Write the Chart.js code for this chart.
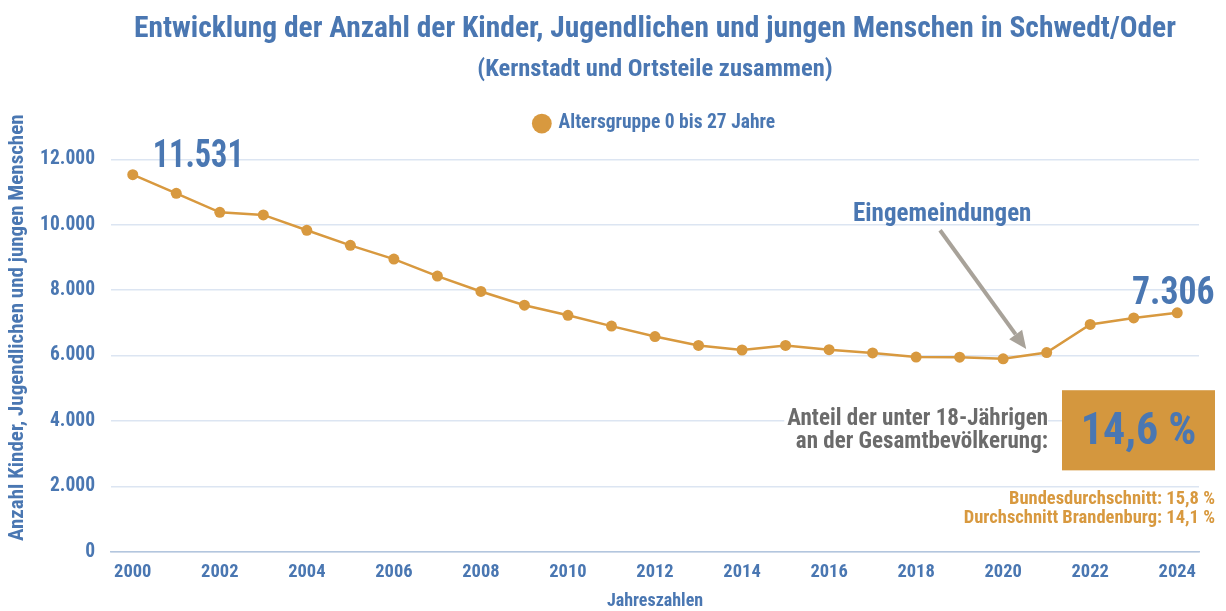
<!DOCTYPE html>
<html lang="de">
<head>
<meta charset="utf-8">
<script src="https://cdn.jsdelivr.net/npm/chart.js@4/dist/chart.umd.min.js"></script>
<style>
  html, body { margin: 0; padding: 0; background: #ffffff; }
  #wrap { width: 1226px; height: 611px; position: relative; }
</style>
</head>
<body>
<div id="wrap"><canvas id="c" width="1226" height="611"></canvas></div>
<script>
// ---- data ----
const years = ['2000','2001','2002','2003','2004','2005','2006','2007','2008','2009','2010','2011','2012',
               '2013','2014','2015','2016','2017','2018','2019','2020','2021','2022','2023','2024'];
const youngPeople = [11531, 10960, 10380, 10300, 9830, 9370, 8950, 8430, 7960, 7540, 7230, 6900, 6580,
                     6310, 6170, 6310, 6180, 6080, 5955, 5950, 5900, 6090, 6950, 7150, 7306];
const seriesLabel = 'Altersgruppe 0 bis 27 Jahre';
const yTicks = [0, 2000, 4000, 6000, 8000, 10000, 12000];
const titleText = 'Entwicklung der Anzahl der Kinder, Jugendlichen und jungen Menschen in Schwedt/Oder';
const subtitleText = '(Kernstadt und Ortsteile zusammen)';
const yAxisTitle = 'Anzahl Kinder, Jugendlichen und jungen Menschen';
const xAxisTitle = 'Jahreszahlen';
const annotationText = 'Eingemeindungen';
const shareLines = ['Anteil der unter 18-Jährigen', 'an der Gesamtbevölkerung:'];
const shareValue = '14,6 %';
const comparisonLines = ['Bundesdurchschnitt: 15,8 %', 'Durchschnitt Brandenburg: 14,1 %'];

// ---- style ----
const FAM = 'Roboto Condensed';
const FONT = '"Roboto Condensed", "Open Sans Condensed", sans-serif';
const BLUE = '#4A77B2';
const ORANGE = '#D8993F';
const BOX = '#D4973E';
const GRAY = '#6B6B6B';
const ARROW = '#A8A299';
const fmt = v => v.toLocaleString('de-DE');

const legendSpace = {
  id: 'legendSpace',
  beforeLayout(chart) {
    const lg = chart.legend;
    if (lg && !lg._patched) {
      const orig = lg.fit;
      lg.fit = function() { orig.call(this); this.height += 16; };
      lg._patched = true;
    }
  }
};

function scaledText(ctx, text, x, y, sx) {
  ctx.save();
  ctx.translate(x, y);
  ctx.scale(sx, 1);
  ctx.fillText(text, 0, 0);
  ctx.restore();
}

const annotations = {
  id: 'annotations',
  afterDatasetsDraw(chart) {
    const ctx = chart.ctx;
    const xs = chart.scales.x, ys = chart.scales.y;
    const ca = chart.chartArea;
    ctx.save();
    const n = youngPeople.length;
    // y axis title
    ctx.fillStyle = BLUE;
    ctx.font = 'bold 21px ' + FONT;
    ctx.textAlign = 'center';
    ctx.textBaseline = 'middle';
    ctx.save();
    ctx.translate(ys.left + 12, ys.getPixelForValue(6850));
    ctx.rotate(-Math.PI / 2);
    ctx.fillText(yAxisTitle, 0, 0);
    ctx.restore();
    // value labels
    let px = xs.getPixelForValue(0), py = ys.getPixelForValue(youngPeople[0]);
    ctx.font = 'bold 38px ' + FONT;
    ctx.textBaseline = 'alphabetic';
    ctx.textAlign = 'left';
    scaledText(ctx, fmt(youngPeople[0]), px + 20, py - 8, 0.85);
    px = xs.getPixelForValue(n - 1); py = ys.getPixelForValue(youngPeople[n - 1]);
    ctx.textAlign = 'center';
    scaledText(ctx, fmt(youngPeople[n - 1]), px - 4, py - 9, 0.94);
    // annotation text + arrow
    ctx.font = 'bold 25px ' + FONT;
    ctx.fillText(annotationText, xs.getPixelForValue(18.6), ys.getPixelForValue(10100));
    const x1 = xs.getPixelForValue(18.55), y1 = ys.getPixelForValue(9830);
    const x2 = xs.getPixelForValue(20.53), y2 = ys.getPixelForValue(6200);
    const ang = Math.atan2(y2 - y1, x2 - x1);
    const head = 18, hw = 8;
    ctx.strokeStyle = ARROW;
    ctx.fillStyle = ARROW;
    ctx.lineWidth = 4;
    ctx.beginPath();
    ctx.moveTo(x1, y1);
    ctx.lineTo(x2 - head * Math.cos(ang), y2 - head * Math.sin(ang));
    ctx.stroke();
    ctx.beginPath();
    ctx.moveTo(x2, y2);
    ctx.lineTo(x2 - head * Math.cos(ang) + hw * Math.sin(ang), y2 - head * Math.sin(ang) - hw * Math.cos(ang));
    ctx.lineTo(x2 - head * Math.cos(ang) - hw * Math.sin(ang), y2 - head * Math.sin(ang) + hw * Math.cos(ang));
    ctx.closePath();
    ctx.fill();
    // share box
    const bx2 = ca.right + 16, bx1 = bx2 - 153;
    const by1 = ys.getPixelForValue(4940), by2 = ys.getPixelForValue(2490);
    ctx.fillStyle = BOX;
    ctx.fillRect(bx1, by1, bx2 - bx1, by2 - by1);
    ctx.fillStyle = BLUE;
    ctx.font = 'bold 44px ' + FONT;
    ctx.textAlign = 'center';
    ctx.textBaseline = 'alphabetic';
    ctx.fillText(shareValue, (bx1 + bx2) / 2, by1 + 54);
    // share description with white backing
    ctx.font = 'bold 23px ' + FONT;
    const tw = Math.max(ctx.measureText(shareLines[0]).width, ctx.measureText(shareLines[1]).width);
    ctx.fillStyle = '#ffffff';
    ctx.fillRect(bx1 - 14 - tw - 3, by1 + 14, tw + 3, 50);
    ctx.fillStyle = GRAY;
    ctx.textAlign = 'right';
    ctx.fillText(shareLines[0], bx1 - 14, by1 + 35);
    ctx.fillText(shareLines[1], bx1 - 14, by1 + 58);
    // comparison
    ctx.fillStyle = ORANGE;
    ctx.font = 'bold 18.5px ' + FONT;
    ctx.fillText(comparisonLines[0], bx2, by2 + 34);
    ctx.fillText(comparisonLines[1], bx2, by2 + 53);
    ctx.restore();
  }
};

function build() {
  new Chart(document.getElementById('c'), {
    type: 'line',
    data: {
      labels: years,
      datasets: [{
        label: seriesLabel,
        data: youngPeople,
        borderColor: ORANGE,
        backgroundColor: ORANGE,
        borderWidth: 2.5,
        pointRadius: 5.5,
        pointHoverRadius: 5.5,
        pointBackgroundColor: ORANGE,
        pointBorderWidth: 0,
        tension: 0
      }]
    },
    options: {
      responsive: false,
      animation: false,
      events: [],
      layout: { padding: { left: 6, right: 27, top: 0, bottom: 0 } },
      plugins: {
        title: {
          display: true, text: titleText, color: BLUE, fullSize: false,
          font: { family: FONT, size: 29.5, weight: 'bold', lineHeight: 1.2 },
          padding: { top: 12, bottom: 8 }
        },
        subtitle: {
          display: true, text: subtitleText, color: BLUE, fullSize: false,
          font: { family: FONT, size: 24.5, weight: 'bold', lineHeight: 1.2 },
          padding: { top: 0, bottom: 19 }
        },
        legend: {
          display: true, fullSize: false,
          labels: {
            usePointStyle: true, pointStyle: 'circle', boxWidth: 14, boxHeight: 14,
            color: BLUE, padding: 10,
            font: { family: FONT, size: 19.5, weight: 'bold' }
          }
        },
        tooltip: { enabled: false }
      },
      scales: {
        x: {
          type: 'category',
          offset: true,
          grid: { display: false, drawTicks: false },
          border: { display: true, color: '#B3C6DE', width: 1.5 },
          ticks: {
            color: BLUE, autoSkip: false, maxRotation: 0, padding: 9,
            font: { family: FONT, size: 18.5, weight: 'bold' },
            callback: function(val, idx) { return idx % 2 === 0 ? this.getLabelForValue(val) : ''; }
          },
          title: {
            display: true, text: xAxisTitle, color: BLUE, padding: { top: 0, bottom: 1 },
            font: { family: FONT, size: 18, weight: 'bold', lineHeight: 1.0 }
          }
        },
        y: {
          min: yTicks[0], max: yTicks[yTicks.length - 1],
          afterBuildTicks: axis => { axis.ticks = yTicks.map(v => ({ value: v })); },
          afterFit: axis => { axis.width = 105; },
          grid: { color: '#DCE5F2', lineWidth: 1.5, drawTicks: false },
          border: { display: false },
          ticks: {
            color: BLUE, padding: 16,
            font: { family: FONT, size: 19.5, weight: 'bold' },
            callback: v => fmt(v)
          },
          title: { display: false }
        }
      }
    },
    plugins: [legendSpace, annotations]
  });
}

let started = false;
function go() { if (!started) { started = true; build(); } }
if (document.fonts && document.fonts.load) {
  Promise.all([
    document.fonts.load('bold 20px "' + FAM + '"'),
    document.fonts.load('20px "' + FAM + '"')
  ]).then(go, go);
  setTimeout(go, 1500);
} else { go(); }
</script>
</body>
</html>
